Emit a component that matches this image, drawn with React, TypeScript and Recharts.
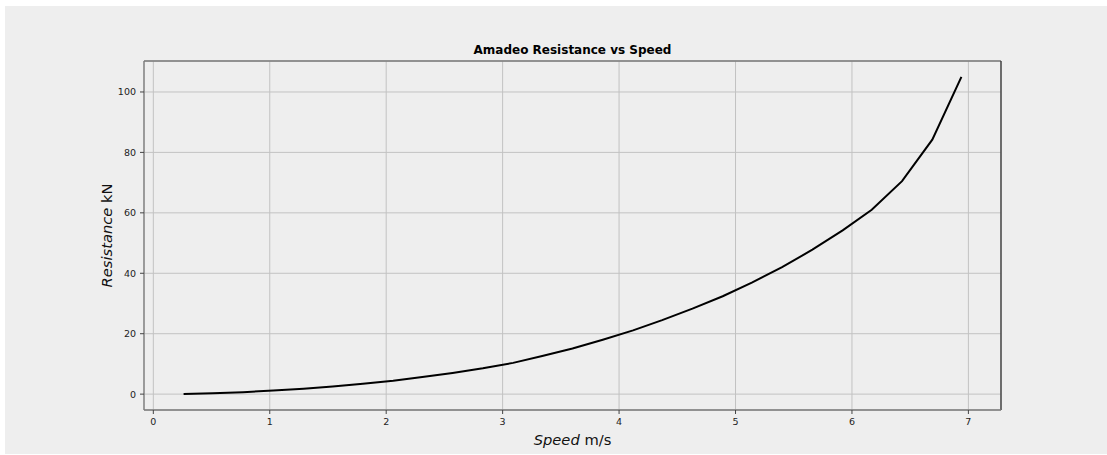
import React from "react";
import {
  LineChart,
  Line,
  XAxis,
  YAxis,
  CartesianGrid,
  ReferenceLine,
  Label,
} from "recharts";

// speed in m/s (0.5 knot steps) and hull resistance in kN
const speeds = [
  0.26, 0.51, 0.77, 1.03, 1.29, 1.54, 1.8, 2.06, 2.31, 2.57, 2.83, 3.09, 3.34, 3.6,
  3.86, 4.12, 4.37, 4.63, 4.89, 5.14, 5.4, 5.66, 5.92, 6.17, 6.43, 6.69, 6.94,
];
const resistance = [
  0.07, 0.3, 0.66, 1.17, 1.8, 2.56, 3.46, 4.45, 5.67, 7.03, 8.55, 10.35, 12.6, 15.1,
  18.0, 21.1, 24.5, 28.3, 32.4, 36.9, 42.0, 47.8, 54.2, 61.0, 70.5, 84.2, 105.0,
];
const xTicks = [0, 1, 2, 3, 4, 5, 6, 7];
const yTicks = [0, 20, 40, 60, 80, 100];
const xDomain: [number, number] = [-0.08, 7.28];
const yDomain: [number, number] = [-5.25, 110.25];

const data = speeds.map((v, i) => ({ speed: v, r: resistance[i] }));

const FONT = "'DejaVu Sans', sans-serif";
const tickStyle = { fontSize: 9.5, fill: "#222", fontFamily: FONT };

function SpeedLabel(props: any) {
  const vb = props.viewBox;
  return (
    <text
      x={vb.x + vb.width / 2}
      y={vb.y + 35}
      textAnchor="middle"
      fontSize={14.7}
      fontFamily={FONT}
      fill="#111"
    >
      <tspan fontStyle="italic">Speed</tspan>
      <tspan>{" m/s"}</tspan>
    </text>
  );
}

function ResistanceLabel(props: any) {
  const vb = props.viewBox;
  const x = 106.5;
  const y = vb.y + vb.height / 2;
  return (
    <text
      x={x}
      y={y}
      textAnchor="middle"
      fontSize={14.7}
      fontFamily={FONT}
      fill="#111"
      transform={`rotate(-90, ${x}, ${y})`}
    >
      <tspan fontStyle="italic">Resistance</tspan>
      <tspan>{" kN"}</tspan>
    </text>
  );
}

export default function App() {
  return (
    <div
      style={{
        position: "absolute",
        left: 0,
        top: 0,
        width: 1107,
        height: 455,
        background: "#fff",
      }}
    >
      <div
        style={{
          position: "absolute",
          left: 5,
          top: 6,
          width: 1102,
          height: 448,
          background: "#eeeeee",
        }}
      >
        <div
          style={{
            position: "absolute",
            left: 139,
            width: 857,
            top: 37,
            textAlign: "center",
            fontFamily: FONT,
            fontWeight: "bold",
            fontSize: 12,
            color: "#000",
          }}
        >
          Amadeo Resistance vs Speed
        </div>
        <LineChart
          width={1102}
          height={448}
          data={data}
          margin={{ top: 55, right: 106, bottom: 0, left: 0 }}
        >
          <CartesianGrid stroke="#c2c2c2" strokeWidth={1} />
          <XAxis
            dataKey="speed"
            type="number"
            domain={xDomain}
            ticks={xTicks}
            allowDataOverflow
            height={44}
            tickSize={4}
            tickMargin={4}
            axisLine={{ stroke: "#7a7a7a", strokeWidth: 1.3 }}
            tickLine={{ stroke: "#444" }}
            tick={tickStyle}
          >
            <Label content={SpeedLabel} />
          </XAxis>
          <YAxis
            type="number"
            domain={yDomain}
            ticks={yTicks}
            allowDataOverflow
            width={139}
            tickSize={4}
            tickMargin={4}
            axisLine={{ stroke: "#7a7a7a", strokeWidth: 1.3 }}
            tickLine={{ stroke: "#444" }}
            tick={tickStyle}
          >
            <Label content={ResistanceLabel} />
          </YAxis>
          <ReferenceLine y={yDomain[1]} stroke="#7a7a7a" strokeWidth={1.3} />
          <ReferenceLine x={xDomain[1]} stroke="#333" strokeWidth={1.3} />
          <Line
            type="linear"
            dataKey="r"
            stroke="#000"
            strokeWidth={2}
            dot={false}
            isAnimationActive={false}
          />
        </LineChart>
      </div>
    </div>
  );
}
